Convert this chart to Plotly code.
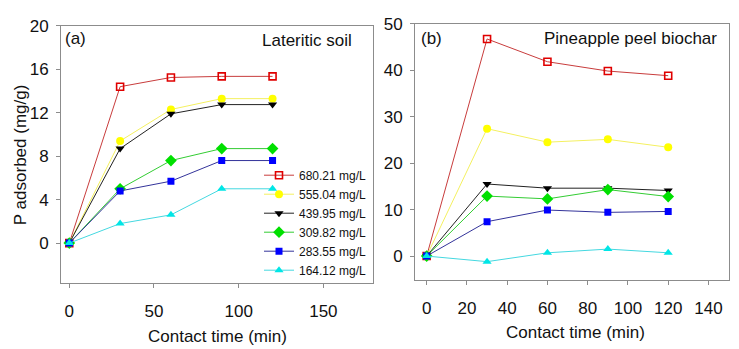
import plotly.graph_objects as go

# ---- data ----
time_min = [0, 30, 60, 90, 120]
conc_labels = ["680.21 mg/L", "555.04 mg/L", "439.95 mg/L", "309.82 mg/L", "283.55 mg/L", "164.12 mg/L"]

soil_680 = [0, 14.4, 15.25, 15.35, 15.35]
soil_555 = [0, 9.4, 12.3, 13.3, 13.3]
soil_440 = [0, 8.7, 11.9, 12.75, 12.75]
soil_310 = [0, 5.0, 7.6, 8.7, 8.7]
soil_284 = [0, 4.8, 5.7, 7.6, 7.6]
soil_164 = [0, 1.8, 2.6, 5.0, 5.0]

char_680 = [0, 46.7, 41.8, 39.8, 38.8]
char_555 = [0, 27.4, 24.5, 25.1, 23.4]
char_440 = [0, 15.5, 14.6, 14.6, 14.1]
char_310 = [0, 12.9, 12.3, 14.3, 12.8]
char_284 = [0, 7.4, 9.9, 9.4, 9.6]
char_164 = [0, -1.2, 0.7, 1.5, 0.7]

x_ticks_a = [0, 50, 100, 150]
y_ticks_a = [0, 4, 8, 12, 16, 20]
x_ticks_b = [0, 20, 40, 60, 80, 100, 120, 140]
y_ticks_b = [0, 10, 20, 30, 40, 50]

# ---- styles ----
styles = [
    dict(symbol="square-open", size=7, mcolor="#e00000", lcolor="#c83c3c", mline=1.6),
    dict(symbol="circle", size=8, mcolor="#ffff00", lcolor="#f4f060", mline=0),
    dict(symbol="triangle-down", size=8, mcolor="#000000", lcolor="#222222", mline=0),
    dict(symbol="diamond", size=9, mcolor="#00e000", lcolor="#33cc33", mline=0),
    dict(symbol="square", size=7, mcolor="#0000ff", lcolor="#33339a", mline=0),
    dict(symbol="triangle-up", size=8, mcolor="#00e6e6", lcolor="#44d8e0", mline=0),
]

soil = [soil_680, soil_555, soil_440, soil_310, soil_284, soil_164]
char = [char_680, char_555, char_440, char_310, char_284, char_164]

FONT = "Liberation Sans, Arial, sans-serif"
W, H = 739, 349

fig = go.Figure()
for lab, ys, st in zip(conc_labels, soil, styles):
    fig.add_trace(go.Scatter(
        x=time_min, y=ys, name=lab, mode="lines+markers",
        xaxis="x", yaxis="y", legendgroup=lab, showlegend=True,
        line=dict(color=st["lcolor"], width=1),
        marker=dict(symbol=st["symbol"], size=st["size"], color=st["mcolor"],
                    line=dict(color=st["mcolor"], width=st["mline"])),
    ))
for lab, ys, st in zip(conc_labels, char, styles):
    fig.add_trace(go.Scatter(
        x=time_min, y=ys, name=lab, mode="lines+markers",
        xaxis="x2", yaxis="y2", legendgroup=lab, showlegend=False,
        line=dict(color=st["lcolor"], width=1),
        marker=dict(symbol=st["symbol"], size=st["size"], color=st["mcolor"],
                    line=dict(color=st["mcolor"], width=st["mline"])),
    ))

def px_x(p):
    return p / W

def px_y(p):
    return 1 - p / H

axis_common = dict(showline=True, mirror=True, linecolor="#8c8c8c", linewidth=1,
                   ticks="outside", ticklen=4, tickcolor="#8c8c8c", tickwidth=1,
                   showgrid=False, zeroline=False,
                   tickfont=dict(family=FONT, size=17, color="#111111"))

fig.update_layout(
    width=W, height=H, autosize=False,
    margin=dict(l=0, r=0, t=0, b=0),
    paper_bgcolor="white", plot_bgcolor="white",
    font=dict(family=FONT, color="#111111"),
    xaxis=dict(domain=[px_x(61), px_x(373)], range=[-4.9, 179.3], anchor="y",
               tickvals=x_ticks_a, ticklabelstandoff=9, **axis_common),
    yaxis=dict(domain=[px_y(281), px_y(17.3)], range=[-3.65, 20], anchor="x",
               tickvals=y_ticks_a, ticklabelstandoff=4, **axis_common),
    xaxis2=dict(domain=[px_x(415), px_x(729)], range=[-5.8, 150.2], anchor="y2",
                tickvals=x_ticks_b, ticklabelstandoff=9, **axis_common),
    yaxis2=dict(domain=[px_y(277.7), px_y(15)], range=[-5.05, 50], anchor="x2",
                tickvals=y_ticks_b, ticklabelstandoff=4, **axis_common),
    legend=dict(x=px_x(372), xanchor="right", y=px_y(283), yanchor="bottom",
                bgcolor="rgba(0,0,0,0)", borderwidth=0,
                font=dict(family=FONT, size=12, color="#111111"),
                tracegroupgap=0),
    showlegend=True,
)

ann = [
    dict(text="(a)", x=px_x(63), y=px_y(30), xanchor="left"),
    dict(text="Lateritic soil", x=px_x(354), y=px_y(32), xanchor="right"),
    dict(text="(b)", x=px_x(419), y=px_y(30), xanchor="left"),
    dict(text="Pineapple peel biochar", x=px_x(719), y=px_y(30), xanchor="right"),
    dict(text="Contact time (min)", x=px_x(217), y=px_y(336), xanchor="center"),
    dict(text="Contact time (min)", x=px_x(575), y=px_y(332), xanchor="center"),
    dict(text="P adsorbed (mg/g)", x=px_x(20), y=px_y(150), xanchor="center", textangle=-90),
]
for a in ann:
    fig.add_annotation(xref="paper", yref="paper", yanchor="middle", showarrow=False,
                       font=dict(family=FONT, size=17, color="#111111"), **a)

fig.write_html("out.html", config={"displayModeBar": False},
               post_script="document.body.style.margin='0';")
